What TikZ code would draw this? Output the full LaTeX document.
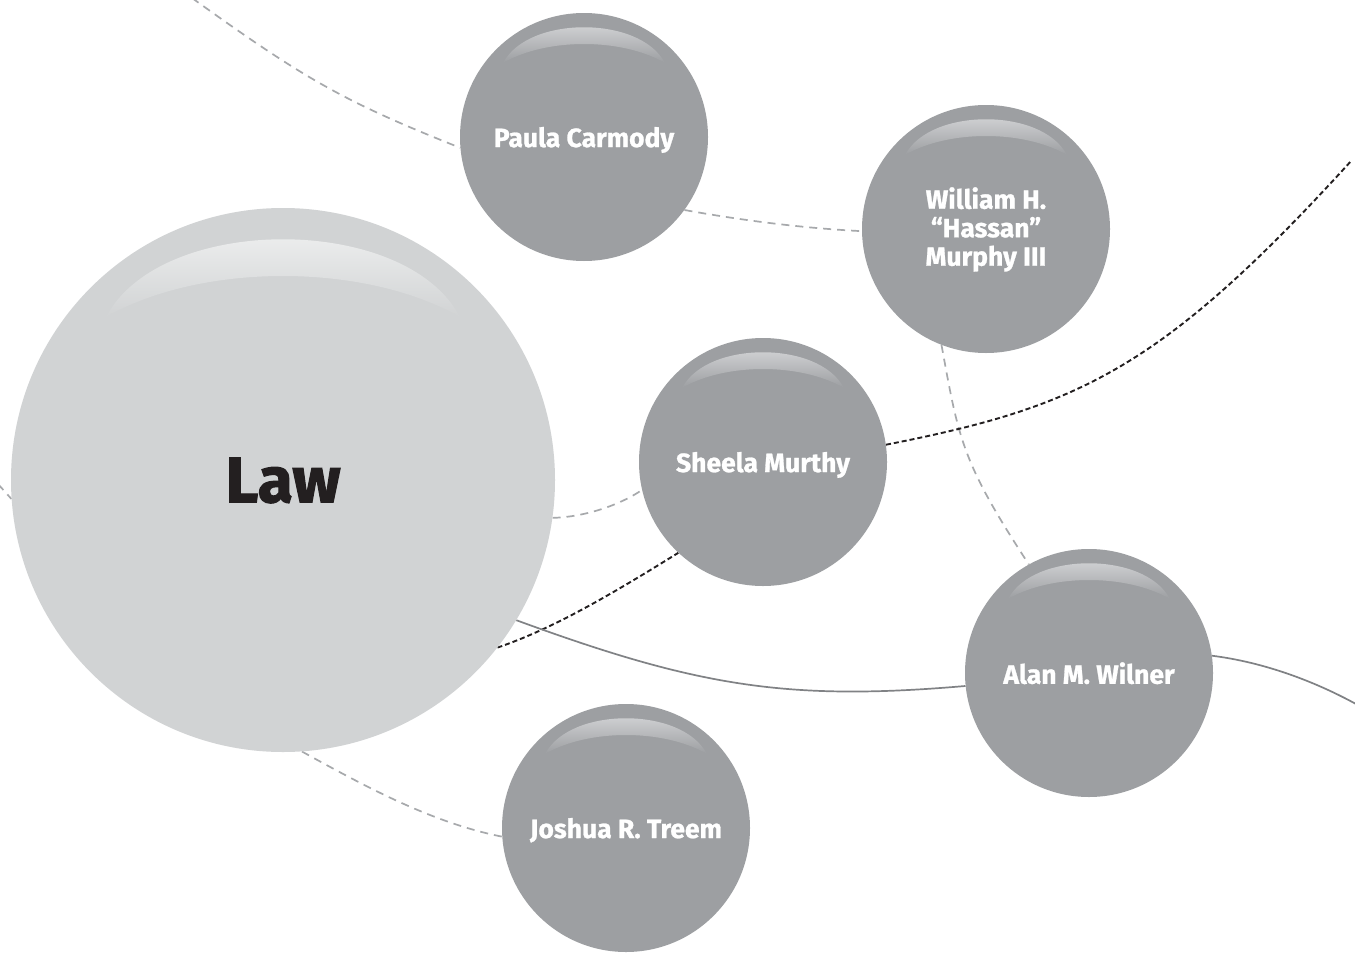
\documentclass[tikz,border=0pt]{standalone}
\usepackage{fontspec}
\newfontfamily\namefont[FakeBold=1]{Fira Sans}
\newfontfamily\lawfont[FakeBold=1.8]{Fira Sans}
\definecolor{lawfill}{HTML}{D1D3D4}
\definecolor{ballfill}{HTML}{9D9FA2}
\definecolor{lawgloss}{HTML}{F3F4F4}
\definecolor{ballgloss}{HTML}{DCDDDF}
\definecolor{dashgray}{HTML}{A7A9AC}
\definecolor{dashblack}{HTML}{231F20}
\definecolor{linegray}{HTML}{808285}
\pgfdeclarelayer{paper}
\pgfdeclarelayer{links}
\pgfsetlayers{paper,links,main}
\tikzset{
  ball/.style 2 args={circle, fill=#2, minimum size={2*#1pt}, inner sep=0pt},
  person/.style={ball={124}{ballfill}, text=white, align=center, text depth=0pt,
    font=\namefont\bfseries\fontsize{26.5}{28.5}\selectfont},
  topic/.style={ball={272}{lawfill}, text=dashblack, text depth=0pt,
    font=\lawfont\bfseries\fontsize{64}{70}\selectfont},
  greydash/.style={draw=dashgray, line width=1.7pt, dash pattern=on 8pt off 6pt},
  blackdash/.style={draw=dashblack, line width=1.9pt, dash pattern=on 5pt off 3pt},
  plainlink/.style={draw=linegray, line width=1.7pt},
}
% crescent-shaped sheen near the top of a disc, in units of its radius
\newcommand\sheen[4]{%
  \begin{scope}[shift={(#1.center)}, scale=#2]
    \shade[top color=#3, bottom color=#4]
      (-0.65,-0.6) .. controls (-0.45,-0.98) and (0.45,-0.98) .. (0.65,-0.6)
      .. controls (0.3,-0.8) and (-0.3,-0.8) .. (-0.65,-0.6) -- cycle;
  \end{scope}}
\begin{document}
\begin{tikzpicture}[x=1pt, y=-1pt]
  \begin{pgfonlayer}{paper}
    \fill[white] (0,0) rectangle (1355,953);
  \end{pgfonlayer}
  \useasboundingbox (0,0) rectangle (1355,953);

  % discs
  \node[topic]  (law)    at (283,480)  {Law};
  \node[person] (paula)  at (584,137)  {Paula Carmody};
  \node[person, text depth=5pt] (hassan) at (986,229) {William H.\\“Hassan”\\Murphy III};
  \node[person] (sheela) at (763,462)  {Sheela Murthy};
  \node[person] (alan)   at (1089,673) {Alan M. Wilner};
  \node[person] (joshua) at (626,828)  {Joshua R. Treem};

  % sheens
  \sheen{law}{272}{lawgloss}{lawfill}
  \foreach \n in {paula,hassan,sheela,alan,joshua}{\sheen{\n}{124}{ballgloss}{ballfill}}

  % loose ends running off the page
  \coordinate (topleft)  at (192,-2);
  \coordinate (leftedge) at (-2,484);
  \coordinate (topright) at (1352,160);
  \coordinate (rightend) at (1356,704);

  \begin{pgfonlayer}{links}
    % grey dashed links
    \draw[greydash] (topleft) .. controls (306,80) and (345,102) .. (paula.185.5);
    \draw[greydash] (paula.-36.8) .. controls (740,220) and (800,228) .. (hassan.181.4);
    \draw[greydash] (hassan.-111.6) .. controls (959,441) and (962,462) .. (alan.119.1);
    \draw[greydash] (law.-8.8) .. controls (585,517) and (620,505) .. (sheela.193.1);
    \draw[greydash] (law.-86.9) .. controls (368,788) and (433,823) .. (joshua.184.2);
    \draw[greydash] (leftedge) -- (law.184.2);
    % black dashed links
    \draw[blackdash] (law.-38.8) .. controls (555,628) and (615,592) .. (sheela.227.6);
    \draw[blackdash] (sheela.8) .. controls (1077,407) and (1160,371) .. (topright);
    % solid links
    \draw[plainlink] (law.-31.8) .. controls (696,686) and (786,701.5) .. (alan.186.5);
    \draw[plainlink] (alan.8.3) .. controls (1262,662) and (1312,680) .. (rightend);
  \end{pgfonlayer}
\end{tikzpicture}
\end{document}
